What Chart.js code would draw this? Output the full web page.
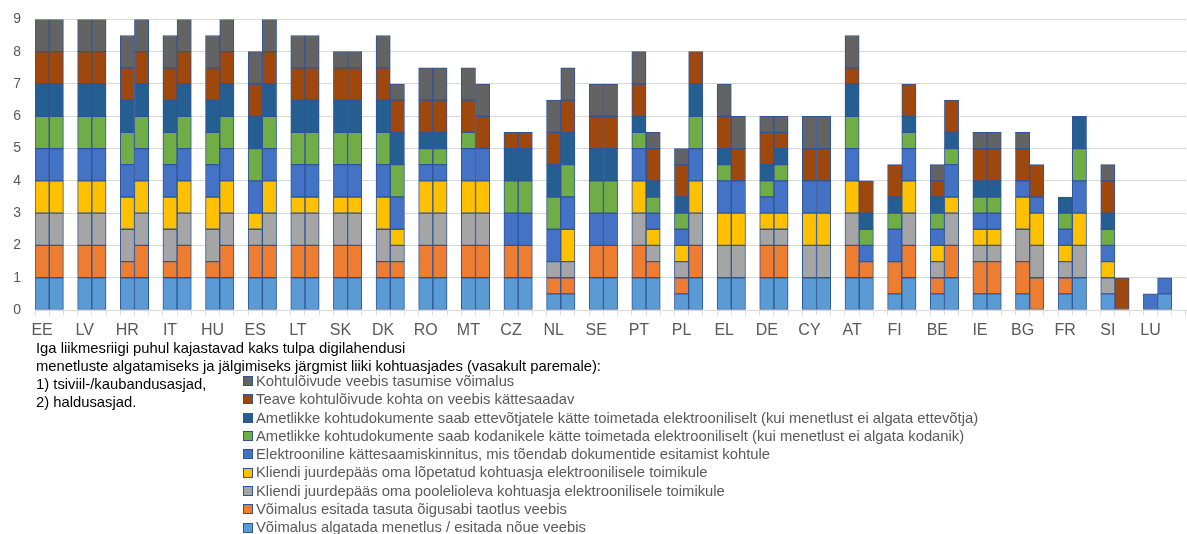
<!DOCTYPE html>
<html>
<head>
<meta charset="utf-8">
<script src="https://cdn.jsdelivr.net/npm/chart.js@4.4.1/dist/chart.umd.min.js"></script>
<style>
  html, body { margin: 0; padding: 0; background: #fff; }
  body { width: 1187px; height: 534px; position: relative; overflow: hidden;
         font-family: "Liberation Sans", Arial, sans-serif; }
  #wrap { position: absolute; left: 0; top: -3px; width: 1187px; height: 348px; }
  #notes { position: absolute; left: 36px; top: 339px; font-size: 14.8px; line-height: 18px; color: #000; white-space: nowrap; }
  #legend { position: absolute; left: 243px; top: 372px; font-size: 14.8px; line-height: 18.3px; color: #595959; white-space: nowrap; }
  #legend .item { display: flex; align-items: center; height: 18.3px; }
  #legend .sw { width: 8px; height: 8px; border: 1px solid #2F5597; margin-right: 3px; box-sizing: content-box; }
</style>
</head>
<body>
<div id="wrap"><canvas id="c"></canvas></div>
<div id="notes">
  <div>Iga liikmesriigi puhul kajastavad kaks tulpa digilahendusi</div>
  <div>menetluste algatamiseks ja jälgimiseks järgmist liiki kohtuasjades (vasakult paremale):</div>
  <div>1) tsiviil-/kaubandusasjad,</div>
  <div>2) haldusasjad.</div>
</div>
<div id="legend"></div>
<script>
// Countries (each has two bars: 1) civil/commercial, 2) administrative)
const countries = ["EE","LV","HR","IT","HU","ES","LT","SK","DK","RO","MT","CZ","NL","SE","PT","PL","EL","DE","CY","AT","FI","BE","IE","BG","FR","SI","LU"];

const seriesNames = [
  "Võimalus algatada menetlus / esitada nõue veebis",
  "Võimalus esitada tasuta õigusabi taotlus veebis",
  "Kliendi juurdepääs oma poolelioleva kohtuasja elektroonilisele toimikule",
  "Kliendi juurdepääs oma lõpetatud kohtuasja elektroonilisele toimikule",
  "Elektrooniline kättesaamiskinnitus, mis tõendab dokumentide esitamist kohtule",
  "Ametlikke kohtudokumente saab kodanikele kätte toimetada elektrooniliselt (kui menetlust ei algata kodanik)",
  "Ametlikke kohtudokumente saab ettevõtjatele kätte toimetada elektrooniliselt (kui menetlust ei algata ettevõtja)",
  "Teave kohtulõivude kohta on veebis kättesaadav",
  "Kohtulõivude veebis tasumise võimalus"
];
const seriesColors = ["#5B9BD5","#ED7D31","#A5A5A5","#FFC000","#4472C4","#70AD47","#255E91","#9E480E","#636363"];

// Civil/commercial cases (first bar)             EE  LV  HR  IT  HU  ES  LT  SK  DK  RO  MT  CZ  NL  SE  PT  PL  EL  DE  CY  AT  FI  BE  IE  BG  FR  SI  LU
const filingCiv      = [1,  1,  1,  1,  1,  1,  1,  1,  1,  1,  1,  1,  0.5,1,  1,  0.5,1,  1,  1,  1,  0.5,0.5,0.5,0.5,0.5,0.5,0];
const legalAidCiv    = [1,  1,  0.5,0.5,0.5,1,  1,  1,  0.5,1,  1,  1,  0.5,1,  1,  0.5,0,  1,  0,  1,  1,  0.5,1,  1,  0.5,0,  0];
const ongoingCiv     = [1,  1,  1,  1,  1,  0.5,1,  1,  1,  1,  1,  0,  0.5,0,  1,  0.5,1,  0.5,1,  1,  0,  0.5,0.5,1,  0.5,0.5,0];
const closedCiv      = [1,  1,  1,  1,  1,  0.5,0.5,0.5,1,  1,  1,  0,  0,  0,  1,  0.5,1,  0.5,1,  1,  0,  0.5,0.5,1,  0.5,0.5,0];
const receiptCiv     = [1,  1,  1,  1,  1,  1,  1,  1,  1,  0.5,1,  1,  1,  1,  1,  0.5,1,  0.5,1,  1,  1,  0.5,0.5,0.5,0.5,0.5,0.5];
const serveCitCiv    = [1,  1,  1,  1,  1,  1,  1,  1,  1,  0.5,0.5,1,  1,  1,  0.5,0.5,0.5,0.5,0,  1,  0.5,0.5,0.5,0,  0.5,0.5,0];
const serveBusCiv    = [1,  1,  1,  1,  1,  1,  1,  1,  1,  0.5,0,  1,  1,  1,  0.5,0.5,0.5,0.5,0,  1,  0.5,0.5,0.5,0,  0.5,0.5,0];
const feeInfoCiv     = [1,  1,  1,  1,  1,  1,  1,  1,  1,  1,  1,  0.5,1,  1,  1,  1,  1,  1,  1,  0.5,1,  0.5,1,  1,  0,  1,  0];
const feePayCiv      = [1,  1,  1,  1,  1,  1,  1,  0.5,1,  1,  1,  0,  1,  1,  1,  0.5,1,  0.5,1,  1,  0,  0.5,0.5,0.5,0,  0.5,0];

// Administrative cases (second bar)              EE  LV  HR  IT  HU  ES  LT  SK  DK  RO  MT  CZ  NL  SE  PT  PL  EL  DE  CY  AT  FI  BE  IE  BG  FR  SI  LU
const filingAdm      = [1,  1,  1,  1,  1,  1,  1,  1,  1,  1,  1,  1,  0.5,1,  1,  1,  1,  1,  1,  1,  1,  1,  0.5,0,  1,  0,  0.5];
const legalAidAdm    = [1,  1,  1,  1,  1,  1,  1,  1,  0.5,1,  1,  1,  0.5,1,  0.5,1,  0,  1,  0,  0.5,1,  1,  1,  1,  0,  0,  0];
const ongoingAdm     = [1,  1,  1,  1,  1,  1,  1,  1,  0.5,1,  1,  0,  0.5,0,  0.5,1,  1,  0.5,1,  0,  1,  1,  0.5,1,  1,  0,  0];
const closedAdm      = [1,  1,  1,  1,  1,  1,  0.5,0.5,0.5,1,  1,  0,  1,  0,  0.5,1,  1,  0.5,1,  0,  1,  0.5,0.5,1,  1,  0,  0];
const receiptAdm     = [1,  1,  1,  1,  1,  1,  1,  1,  1,  0.5,1,  1,  1,  1,  0.5,1,  1,  1,  1,  0.5,1,  1,  0.5,0.5,1,  0,  0.5];
const serveCitAdm    = [1,  1,  1,  1,  1,  1,  1,  1,  1,  0.5,0,  1,  1,  1,  0.5,1,  0,  0.5,0,  0.5,0.5,0.5,0.5,0,  1,  0,  0];
const serveBusAdm    = [1,  1,  1,  1,  1,  1,  1,  1,  1,  0.5,0,  1,  1,  1,  0.5,1,  0,  0.5,0,  0.5,0.5,0.5,0.5,0,  1,  0,  0];
const feeInfoAdm     = [1,  1,  1,  1,  1,  1,  1,  1,  1,  1,  1,  0.5,1,  1,  1,  1,  1,  0.5,1,  1,  1,  1,  1,  1,  0,  1,  0];
const feePayAdm      = [1,  1,  1,  1,  1,  1,  1,  0.5,0.5,1,  1,  0,  1,  1,  0.5,0,  1,  0.5,1,  0,  0,  0,  0.5,0,  0,  0,  0];

const civ = [filingCiv, legalAidCiv, ongoingCiv, closedCiv, receiptCiv, serveCitCiv, serveBusCiv, feeInfoCiv, feePayCiv];
const adm = [filingAdm, legalAidAdm, ongoingAdm, closedAdm, receiptAdm, serveCitAdm, serveBusAdm, feeInfoAdm, feePayAdm];

// Three slots per country: bar 1, bar 2, gap
const labels = [];
countries.forEach(c => { labels.push(c, "", ""); });

const datasets = seriesNames.map((name, s) => {
  const data = [];
  countries.forEach((c, i) => {
    data.push(civ[s][i] || null, adm[s][i] || null, null);
  });
  return {
    label: name,
    data: data,
    backgroundColor: seriesColors[s],
    borderColor: "#2F5597",
    borderWidth: 1,
    borderSkipped: false,
    categoryPercentage: 1.0,
    barPercentage: 1.0
  };
});

const chart = new Chart(document.getElementById("c"), {
  type: "bar",
  data: { labels: labels, datasets: datasets },
  options: {
    responsive: true,
    maintainAspectRatio: false,
    animation: false,
    layout: { padding: { top: 16, right: 1, left: 0, bottom: 0 } },
    plugins: { legend: { display: false }, tooltip: { enabled: false } },
    scales: {
      x: {
        stacked: true,
        grid: { offset: true, drawOnChartArea: false, drawTicks: true, tickLength: 5, color: "#D9D9D9" },
        border: { color: "#D9D9D9" },
        ticks: {
          autoSkip: false, maxRotation: 0, minRotation: 0, padding: 6,
          color: "#595959", font: { size: 16, family: "'Liberation Sans', Arial, sans-serif" },
          callback: function (v, i) { return labels[i]; }
        },
        afterFit: function (s) { s.height = 35; }
      },
      y: {
        stacked: true, min: 0, max: 9,
        ticks: { stepSize: 1, padding: 14, color: "#595959", font: { size: 14, family: "'Liberation Sans', Arial, sans-serif" } },
        grid: { color: "#D9D9D9", drawTicks: false },
        border: { display: false },
        afterFit: function (s) { s.width = 35; }
      }
    }
  }
});

// HTML legend built from datasets (top-most series first)
const legendEl = document.getElementById("legend");
chart.data.datasets.slice().reverse().forEach(ds => {
  const row = document.createElement("div");
  row.className = "item";
  const sw = document.createElement("span");
  sw.className = "sw";
  sw.style.background = ds.backgroundColor;
  const tx = document.createElement("span");
  tx.textContent = ds.label;
  row.appendChild(sw); row.appendChild(tx);
  legendEl.appendChild(row);
});
</script>
</body>
</html>
